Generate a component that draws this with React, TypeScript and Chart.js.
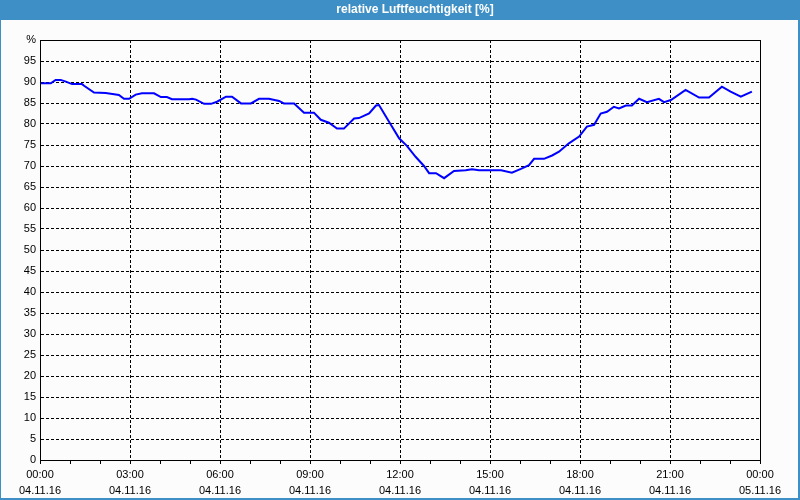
import React, { useEffect, useRef } from "react";
import { Chart, registerables } from "chart.js";

Chart.register(...registerables);

const TITLE = "relative Luftfeuchtigkeit [%]";

// time in hours since 04.11.16 00:00
const hours = [
  0.02, 0.36, 0.52, 0.69, 0.86, 1.07, 1.4, 1.47, 1.8, 2.19, 2.47, 2.63, 2.8, 2.97,
  3.19, 3.4, 3.8, 4.03, 4.23, 4.4, 4.97, 5.07, 5.2, 5.47, 5.7, 5.9, 6.2, 6.4, 6.7,
  7.03, 7.3, 7.63, 7.97, 8.13, 8.47, 8.8, 9.13, 9.36, 9.63, 9.9, 10.13, 10.47,
  10.63, 10.97, 11.2, 11.3, 11.63, 11.97, 12.23, 12.52, 12.8, 12.97, 13.2, 13.47,
  13.8, 14.19, 14.4, 14.63, 14.97, 15.37, 15.73, 16.03, 16.3, 16.47, 16.8, 17.07,
  17.3, 17.63, 17.97, 18.23, 18.47, 18.69, 18.9, 19.13, 19.3, 19.53, 19.73, 19.97,
  20.23, 20.63, 20.8, 21.03, 21.52, 21.97, 22.3, 22.73, 23.02, 23.36, 23.73,
];

const humidity = [
  89.7, 89.7, 90.5, 90.5, 90.1, 89.5, 89.5, 89.1, 87.5, 87.4, 87.1, 86.9, 86.0, 86.0,
  87.0, 87.3, 87.3, 86.4, 86.4, 85.9, 85.9, 86.0, 85.8, 84.8, 84.8, 85.3, 86.5, 86.5,
  84.9, 84.9, 86.0, 86.0, 85.5, 84.9, 84.9, 82.7, 82.7, 81.0, 80.3, 78.9, 78.9, 81.3,
  81.4, 82.5, 84.4, 84.5, 80.6, 76.6, 74.8, 72.2, 70.0, 68.3, 68.3, 67.1, 68.8, 69.0,
  69.2, 69.0, 69.0, 69.0, 68.4, 69.3, 70.2, 71.7, 71.7, 72.5, 73.4, 75.4, 77.0, 79.4,
  79.8, 82.5, 82.9, 84.1, 83.7, 84.4, 84.4, 86.0, 85.2, 86.0, 85.2, 85.7, 88.1, 86.3,
  86.3, 88.9, 87.7, 86.5, 87.7,
];

const timeLabels = ["00:00", "03:00", "06:00", "09:00", "12:00", "15:00", "18:00", "21:00", "00:00"];
const dateLabels = ["04.11.16", "04.11.16", "04.11.16", "04.11.16", "04.11.16", "04.11.16", "04.11.16", "04.11.16", "05.11.16"];

const FONT = "'Liberation Sans', Arial, sans-serif";
const BLUE = "rgb(61,143,197)";

const framePlugin = {
  id: "frame",
  beforeDraw(chart: any) {
    const ctx = chart.ctx;
    ctx.save();
    ctx.fillStyle = "#fcfcfc";
    ctx.fillRect(0, 0, chart.width, chart.height);
    ctx.fillStyle = BLUE;
    ctx.fillRect(0, 0, chart.width, 20);
    // outer border
    ctx.fillRect(0, 0, 1, chart.height);
    ctx.fillRect(chart.width - 2, 0, 2, chart.height);
    ctx.fillRect(0, chart.height - 2, chart.width, 2);
    ctx.fillStyle = "#ffffff";
    ctx.font = `bold 12px ${FONT}`;
    ctx.textAlign = "center";
    ctx.textBaseline = "middle";
    ctx.fillText(TITLE, 415, 10);
    ctx.restore();
  },
  afterDraw(chart: any) {
    const { left, top, right, bottom } = chart.chartArea;
    const ctx = chart.ctx;
    ctx.save();
    ctx.strokeStyle = "#000";
    ctx.lineWidth = 1;
    ctx.setLineDash([]);
    ctx.strokeRect(Math.round(left) + 0.5, Math.round(top) + 0.5, Math.round(right - left), Math.round(bottom - top));
    ctx.restore();
  },
};

export default function App() {
  const ref = useRef<HTMLCanvasElement>(null);
  useEffect(() => {
    if (!ref.current) return;
    const points = hours.map((h, i) => ({ x: h, y: humidity[i] }));
    const chart = new Chart(ref.current, {
      type: "line",
      data: {
        datasets: [
          {
            data: points,
            borderColor: "#0000ff",
            borderWidth: 2,
            pointRadius: 0,
            tension: 0,
            fill: false,
          },
        ],
      },
      options: {
        animation: false,
        responsive: false,
        maintainAspectRatio: false,
        layout: { padding: { left: 0, right: 40, top: 40, bottom: 0 } },
        plugins: { legend: { display: false }, tooltip: { enabled: false }, title: { display: false } },
        scales: {
          x: {
            type: "linear",
            min: 0,
            max: 24,
            afterFit: (s: any) => {
              s.height = 40;
            },
            afterBuildTicks: (s: any) => {
              const t = [];
              for (let i = 0; i <= 24; i++) t.push({ value: i });
              s.ticks = t;
            },
            ticks: {
              autoSkip: false,
              maxRotation: 0,
              minRotation: 0,
              padding: 3,
              color: "#000",
              font: { family: FONT, size: 11, lineHeight: "16px" } as any,
              callback: (v: any) => {
                const n = Number(v);
                if (n % 3 !== 0) return "";
                const k = n / 3;
                return [timeLabels[k], dateLabels[k]];
              },
            },
            grid: {
              drawTicks: true,
              tickLength: 4,
              tickColor: "#000",
              tickBorderDash: [],
              color: (c: any) => {
                const v = c.tick ? c.tick.value : 0;
                return v % 3 === 0 && v !== 0 && v !== 24 ? "#000" : "rgba(0,0,0,0)";
              },
            } as any,
            border: { display: true, color: "#000", width: 1, dash: [3, 2] } as any,
          },
          y: {
            min: 0,
            max: 100,
            afterFit: (s: any) => {
              s.width = 40;
            },
            ticks: {
              stepSize: 5,
              padding: 4,
              color: "#000",
              font: { family: FONT, size: 11 },
              callback: (v: any) => (Number(v) === 100 ? "%" : String(v)),
            },
            grid: {
              drawTicks: false,
              color: (c: any) => {
                const v = c.tick ? c.tick.value : 0;
                return v === 0 || v === 100 ? "rgba(0,0,0,0)" : "#000";
              },
            },
            border: { display: true, color: "#000", width: 1, dash: [3, 2] } as any,
          },
        },
      },
      plugins: [framePlugin],
    });
    return () => chart.destroy();
  }, []);
  return (
    <div style={{ position: "absolute", left: 0, top: 0, width: 800, height: 500 }}>
      <canvas ref={ref} width={800} height={500} />
    </div>
  );
}
